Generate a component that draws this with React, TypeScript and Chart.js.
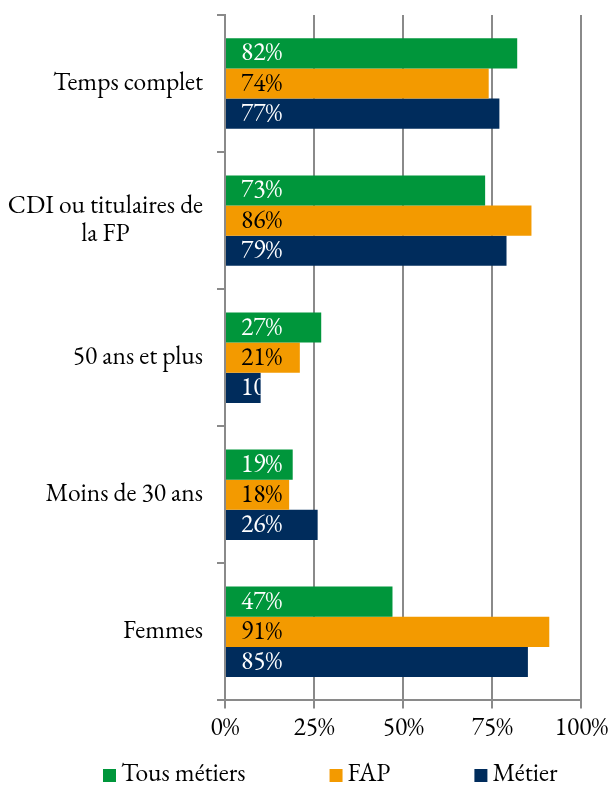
import React, { useEffect, useRef } from "react";
import { Chart, registerables } from "chart.js";

Chart.register(...registerables);

const categories: (string | string[])[] = [
  "Temps complet",
  ["CDI ou titulaires de", "la FP"],
  "50 ans et plus",
  "Moins de 30 ans",
  "Femmes",
];
const seriesNames = ["Tous métiers", "FAP", "Métier"];
const tousMetiers = [82, 73, 27, 19, 47];
const fap = [74, 86, 21, 18, 91];
const metier = [77, 79, 10, 26, 85];
const seriesColors = ["#00963b", "#f39a00", "#002c5c"];
const labelColors = ["#ffffff", "#000000", "#ffffff"];
const xTicks = [0, 25, 50, 75, 100];

const FONT = "EB Garamond";
const FS = 25.5;

const barLabelPlugin = {
  id: "barLabels",
  afterDatasetsDraw(chart: any) {
    const ctx = chart.ctx;
    chart.data.datasets.forEach((ds: any, di: number) => {
      const meta = chart.getDatasetMeta(di);
      meta.data.forEach((bar: any, i: number) => {
        const p = bar.getProps(["x", "y", "base", "height"], true);
        const left = Math.min(p.base, p.x);
        const right = Math.max(p.base, p.x);
        ctx.save();
        ctx.beginPath();
        ctx.rect(left, p.y - p.height / 2, right - left, p.height);
        ctx.clip();
        ctx.font = `${FS}px ${FONT}`;
        ctx.fillStyle = labelColors[di];
        ctx.textAlign = "left";
        ctx.textBaseline = "alphabetic";
        ctx.fillText(`${ds.data[i]}%`, left + 15, p.y + 7);
        ctx.restore();
      });
    });
  },
};

const categoryLabelPlugin = {
  id: "categoryLabels",
  afterDraw(chart: any) {
    const ctx = chart.ctx;
    const scale = chart.scales.y;
    const rightEdge = scale.right - 8 - 14;
    ctx.save();
    ctx.font = `${FS}px ${FONT}`;
    ctx.fillStyle = "#000000";
    ctx.textBaseline = "alphabetic";
    ctx.textAlign = "center";
    (chart.data.labels as any[]).forEach((lab: any, i: number) => {
      const lines: string[] = Array.isArray(lab) ? lab : [lab];
      const widest = Math.max(...lines.map((l) => ctx.measureText(l).width));
      const cx = rightEdge - widest / 2;
      const cy = scale.getPixelForTick(i);
      lines.forEach((l, li) => {
        const y = cy + 6.5 + (li - (lines.length - 1) / 2) * 28;
        ctx.fillText(l, cx, y);
      });
    });
    ctx.restore();
  },
};

const legendPlugin = {
  id: "customLegend",
  afterDraw(chart: any) {
    const ctx = chart.ctx;
    ctx.save();
    ctx.font = `${FS}px ${FONT}`;
    ctx.textBaseline = "alphabetic";
    ctx.textAlign = "left";
    let x = 103;
    const boxTop = 769;
    chart.data.datasets.forEach((ds: any) => {
      ctx.fillStyle = ds.backgroundColor;
      ctx.fillRect(x, boxTop, 13, 13);
      ctx.fillStyle = "#000000";
      ctx.fillText(ds.label, x + 18, 781);
      const w = ctx.measureText(ds.label).width;
      x += 18 + w + 84;
    });
    ctx.restore();
  },
};

export default function App() {
  const ref = useRef<HTMLCanvasElement>(null);
  useEffect(() => {
    document.body.style.margin = "0";
    let chart: any = null;
    let cancelled = false;
    const build = () => {
      if (cancelled || !ref.current) return;
      const datasets = [tousMetiers, fap, metier].map((d, i) => ({
        label: seriesNames[i],
        data: d,
        backgroundColor: seriesColors[i],
        borderWidth: 0,
        categoryPercentage: 0.66,
        barPercentage: 1,
      }));
      chart = new Chart(ref.current, {
        type: "bar",
        data: { labels: categories, datasets },
        options: {
          indexAxis: "y",
          animation: false,
          responsive: false,
          layout: { padding: { top: 15, bottom: 38, right: 29, left: 0 } },
          plugins: { legend: { display: false }, tooltip: { enabled: false } },
          scales: {
            x: {
              min: 0,
              max: 100,
              afterBuildTicks: (scale: any) => {
                scale.ticks = xTicks.map((v) => ({ value: v }));
              },
              ticks: {
                callback: (v: any) => `${v}%`,
                font: { family: FONT, size: FS },
                color: "#000000",
                padding: 4,
                maxRotation: 0,
              },
              grid: {
                color: "#8a8a8a",
                lineWidth: 2,
                tickLength: 8,
                drawTicks: true,
              },
              border: { color: "#8a8a8a", width: 2 },
            },
            y: {
              afterFit: (scale: any) => {
                scale.width = 225;
                scale.paddingTop = 0;
                scale.paddingBottom = 0;
              },
              ticks: {
                display: false,
              },
              grid: {
                offset: true,
                drawOnChartArea: false,
                color: "#8a8a8a",
                lineWidth: 2,
                tickLength: 8,
              },
              border: { color: "#8a8a8a", width: 2 },
            },
          },
        },
        plugins: [barLabelPlugin, categoryLabelPlugin, legendPlugin],
      } as any);
    };
    const fonts: any = (document as any).fonts;
    if (fonts && fonts.load) {
      fonts
        .load(`${FS}px "EB Garamond"`)
        .catch(() => null)
        .then(() => build());
    } else {
      build();
    }
    return () => {
      cancelled = true;
      if (chart) chart.destroy();
    };
  }, []);
  return (
    <div style={{ position: "absolute", left: 0, top: 0, width: 612, height: 785, background: "#fff" }}>
      <canvas ref={ref} width={612} height={785} style={{ width: 612, height: 785 }} />
    </div>
  );
}
